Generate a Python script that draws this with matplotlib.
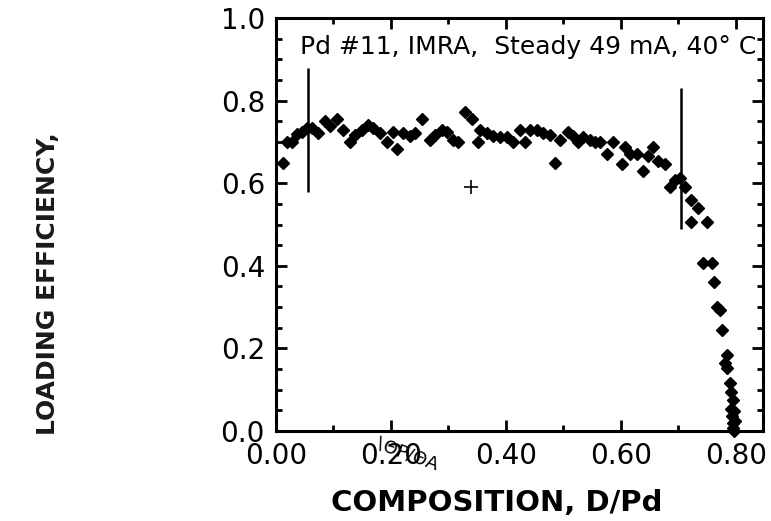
import numpy as np
import matplotlib
matplotlib.use('Agg')
import matplotlib.pyplot as plt
from matplotlib.ticker import MultipleLocator

# loading efficiency vs composition
comp = [0.012, 0.019, 0.028, 0.036, 0.045, 0.054, 0.063, 0.073, 0.085, 0.094,
        0.106, 0.117, 0.129, 0.137, 0.150, 0.160, 0.169, 0.181, 0.193, 0.203,
        0.210, 0.221, 0.233, 0.242, 0.254, 0.268, 0.276, 0.289, 0.297, 0.308,
        0.317, 0.329, 0.341, 0.351, 0.355, 0.367, 0.377, 0.390, 0.402, 0.412,
        0.424, 0.433, 0.442, 0.454, 0.464, 0.476, 0.485, 0.494, 0.508, 0.517,
        0.525, 0.534, 0.546, 0.555, 0.563, 0.576, 0.586, 0.602, 0.607, 0.616,
        0.628, 0.638, 0.647, 0.656, 0.664, 0.677, 0.685, 0.694, 0.703, 0.711,
        0.723, 0.734, 0.723, 0.750, 0.743, 0.758, 0.763, 0.767, 0.772, 0.776,
        0.784, 0.781, 0.784, 0.790, 0.792, 0.795, 0.792, 0.797, 0.794, 0.798,
        0.796, 0.795, 0.797]
eff = [0.648, 0.700, 0.700, 0.720, 0.725, 0.735, 0.735, 0.723, 0.750, 0.738,
       0.755, 0.730, 0.700, 0.718, 0.730, 0.742, 0.735, 0.723, 0.700, 0.725,
       0.682, 0.723, 0.714, 0.723, 0.755, 0.706, 0.718, 0.730, 0.725, 0.706,
       0.700, 0.772, 0.755, 0.700, 0.730, 0.723, 0.714, 0.711, 0.711, 0.700,
       0.730, 0.700, 0.730, 0.730, 0.723, 0.718, 0.650, 0.706, 0.725, 0.714,
       0.700, 0.711, 0.706, 0.700, 0.700, 0.670, 0.700, 0.646, 0.687, 0.670,
       0.670, 0.629, 0.665, 0.687, 0.653, 0.646, 0.592, 0.609, 0.614, 0.592,
       0.560, 0.541, 0.505, 0.505, 0.408, 0.408, 0.360, 0.300, 0.294, 0.245,
       0.184, 0.165, 0.153, 0.116, 0.095, 0.074, 0.053, 0.048, 0.036, 0.024,
       0.020, 0.008, 0.000]

# error bars (vertical lines) and the single cross
bar_x = [0.055, 0.705]
bar_lo = [0.58, 0.49]
bar_hi = [0.88, 0.83]
cross_x = [0.34]
cross_y = [0.59]

plt.rcParams['font.family'] = ['DejaVu Sans']

fig = plt.figure(figsize=(7.71, 5.21), dpi=100)
ax = fig.add_axes([0.358, 0.173, 0.632, 0.792])

ax.plot(comp, eff, 'D', color='black', markersize=6.3, clip_on=False, zorder=3)
ax.vlines(bar_x, bar_lo, bar_hi, color='black', linewidth=1.8)
ax.plot(cross_x, cross_y, '+', color='black', markersize=10, markeredgewidth=1.2)

ax.set_xlim(0, 0.848)
ax.set_ylim(0, 1.0)
ax.xaxis.set_major_locator(MultipleLocator(0.2))
ax.xaxis.set_minor_locator(MultipleLocator(0.1))
ax.yaxis.set_major_locator(MultipleLocator(0.2))
ax.yaxis.set_minor_locator(MultipleLocator(0.05))
ax.set_xticklabels(['%.2f' % v for v in ax.get_xticks()])
ax.set_yticklabels(['%.1f' % v for v in ax.get_yticks()])

for s in ax.spines.values():
    s.set_linewidth(2.2)
ax.tick_params(which='both', direction='in', top=True, right=True,
               labelsize=20, width=2)
ax.tick_params(which='major', length=8)
ax.tick_params(which='minor', length=4.3)
ax.tick_params(axis='x', pad=8)
ax.tick_params(axis='y', pad=8)

ax.text(0.518, 0.913, 'Pd #11, IMRA,  Steady 49 mA, 40° C', transform=ax.transAxes,
        ha='center', va='baseline', fontsize=18)

# garbled overlapping label under the axis
ax.text(0.225, -0.06, '\u2216\u0398P/\u0398A', transform=ax.transData,
        ha='center', va='center', fontsize=13, rotation=-20, clip_on=False)

ax.set_xlabel('COMPOSITION, D/Pd', fontsize=21, fontweight='bold')
ax.xaxis.set_label_coords(0.454, -0.14)
fig.text(0.062, 0.455, 'LOADING EFFICIENCY,', rotation=90, ha='center',
         va='center', fontsize=18, fontweight='bold', color='#1a1a1a')

plt.savefig('out.png', dpi=100)
